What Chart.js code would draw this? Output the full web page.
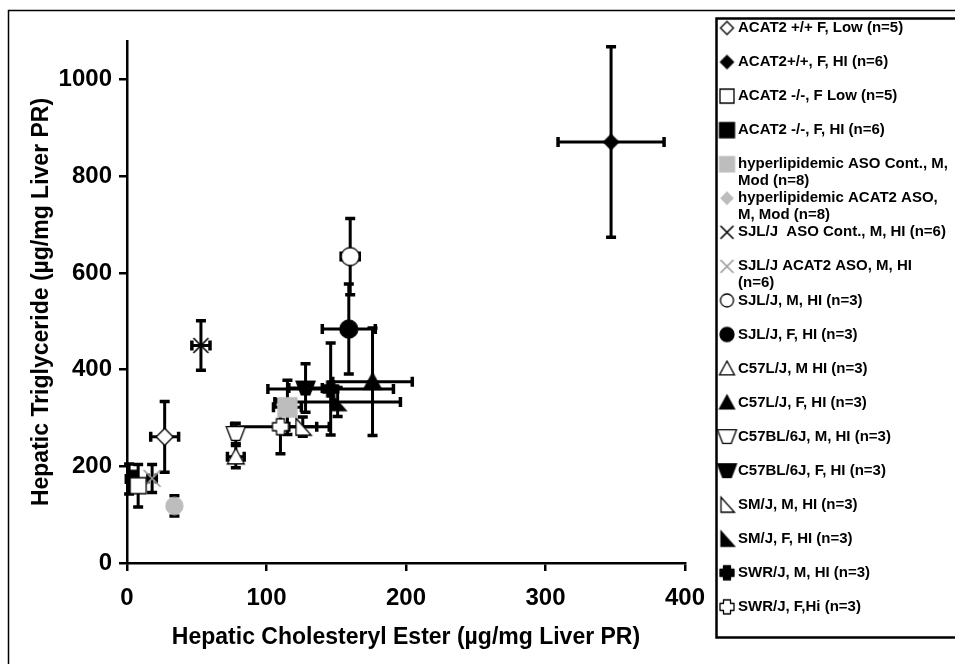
<!DOCTYPE html>
<html>
<head>
<meta charset="utf-8">
<script src="https://cdn.jsdelivr.net/npm/chart.js@4.4.1/dist/chart.umd.min.js"></script>
<style>
  html, body { margin: 0; padding: 0; background: #fff; }
  #wrap { width: 955px; height: 664px; }
</style>
</head>
<body>
<div id="wrap"><canvas id="chart" width="955" height="664"></canvas></div>
<script>
// ---------- data ----------
const seriesNames = [
  'ACAT2 +/+ F, Low (n=5)',
  'ACAT2+/+, F, HI (n=6)',
  'ACAT2 -/-, F Low (n=5)',
  'ACAT2 -/-, F, HI (n=6)',
  'hyperlipidemic ASO Cont., M,\nMod (n=8)',
  'hyperlipidemic ACAT2 ASO,\nM, Mod (n=8)',
  'SJL/J  ASO Cont., M, HI (n=6)',
  'SJL/J ACAT2 ASO, M, HI\n(n=6)',
  'SJL/J, M, HI (n=3)',
  'SJL/J, F, HI (n=3)',
  'C57L/J, M HI (n=3)',
  'C57L/J, F, HI (n=3)',
  'C57BL/6J, M, HI (n=3)',
  'C57BL/6J, F, HI (n=3)',
  'SM/J, M, HI (n=3)',
  'SM/J, F, HI (n=3)',
  'SWR/J, M, HI (n=3)',
  'SWR/J, F,Hi (n=3)',
];
// hepatic cholesteryl ester (x) and triglyceride (y), with SEM
const ceValues = [27, 347, 8, 1.5, 115, 34, 53, 18, 160, 159, 78, 176, 78, 128, 126, 151, 146, 110];
const tgValues = [261, 871, 160, 174, 322, 118, 450, 175, 634, 484, 220, 375, 268, 362, 282, 333, 360, 282];
const ceErr = [10, 38, 4, 2, 10, 3, 6.5, 3, 6.5, 19, 6, 28.5, 2, 12, 10, 45, 45, 35];
const tgErr = [73, 197, 44, 31, 56, 21, 51, 29, 79, 93, 23, 111, 21, 50, 20, 30, 95, 56];

const xTicks = [0, 100, 200, 300, 400];
const yTicks = [0, 200, 400, 600, 800, 1000];

// marker per series: shape, fill, stroke, size in plot, size in legend
const markerStyles = [
  ['diamond', '#fff', '#000', 17, 13],
  ['diamond', '#000', '#000', 15, 13],
  ['square', '#fff', '#000', 16, 14],
  ['square', '#000', '#000', 17, 15],
  ['square', '#bdbdbd', '#bdbdbd', 19, 15],
  ['circle', '#bdbdbd', '#bdbdbd', 17, 0],
  ['x', null, '#000', 15, 13],
  ['x', null, '#9a9a9a', 17, 13],
  ['circle', '#fff', '#000', 18, 13],
  ['circle', '#000', '#000', 18, 14],
  ['triUp', '#fff', '#000', 17, 15],
  ['triUp', '#000', '#000', 18, 15],
  ['trapDown', '#fff', '#000', 19, 19],
  ['trapDown', '#000', '#000', 19, 19],
  ['rtri', '#fff', '#000', 17, 15],
  ['rtri', '#000', '#000', 17, 15],
  ['plus', '#000', '#000', 16, 14],
  ['plus', '#fff', '#000', 16, 14],
];

// ---------- marker drawing ----------
function makeMarker(shape, fill, stroke, s) {
  const c = document.createElement('canvas');
  c.width = c.height = Math.ceil(s + 6);
  const g = c.getContext('2d');
  g.translate(c.width / 2, c.height / 2);
  const h = s / 2;
  g.lineJoin = 'miter';
  g.beginPath();
  switch (shape) {
    case 'diamond':
      g.moveTo(0, -h); g.lineTo(h, 0); g.lineTo(0, h); g.lineTo(-h, 0); break;
    case 'square':
      g.rect(-h, -h, s, s); break;
    case 'circle':
      g.arc(0, 0, h, 0, Math.PI * 2); break;
    case 'triUp':
      g.moveTo(0, -h); g.lineTo(h, h * 0.85); g.lineTo(-h, h * 0.85); break;
    case 'trapDown':
      g.moveTo(-h, -h * 0.72); g.lineTo(h, -h * 0.72); g.lineTo(h * 0.45, h * 0.72); g.lineTo(-h * 0.45, h * 0.72); break;
    case 'rtri':
      g.moveTo(-h * 0.8, -h); g.lineTo(-h * 0.8, h); g.lineTo(h, h); break;
    case 'plus': {
      const a = h * 0.5;
      g.lineJoin = 'round';
      g.moveTo(-a, -h); g.lineTo(a, -h); g.lineTo(a, -a); g.lineTo(h, -a); g.lineTo(h, a);
      g.lineTo(a, a); g.lineTo(a, h); g.lineTo(-a, h); g.lineTo(-a, a); g.lineTo(-h, a);
      g.lineTo(-h, -a); g.lineTo(-a, -a); break;
    }
    case 'x':
      g.moveTo(-h, -h); g.lineTo(h, h); g.moveTo(h, -h); g.lineTo(-h, h);
      g.strokeStyle = stroke; g.lineWidth = 1.6; g.stroke();
      return c;
  }
  g.closePath();
  if (fill) { g.fillStyle = fill; g.fill(); }
  g.strokeStyle = stroke; g.lineWidth = 1.3; g.stroke();
  return c;
}

const plotMarkers = markerStyles.map(m => makeMarker(m[0], m[1], m[2], m[3]));
const legendMarkers = markerStyles.map((m, i) =>
  i === 5 ? makeMarker('diamond', '#bdbdbd', '#bdbdbd', 12) : makeMarker(m[0], m[1], m[2], m[4]));

// ---------- plugins ----------
const frame = {
  id: 'frame',
  beforeDraw(chart) {
    const ctx = chart.ctx;
    ctx.save();
    ctx.fillStyle = '#fff';
    ctx.fillRect(0, 0, chart.width, chart.height);
    ctx.strokeStyle = '#000';
    ctx.lineWidth = 1.5;
    ctx.beginPath();
    ctx.moveTo(8.5, chart.height + 2); ctx.lineTo(8.5, 10.5); ctx.lineTo(chart.width + 2, 10.5);
    ctx.stroke();
    ctx.restore();
  },
};

const errorBars = {
  id: 'errorBars',
  beforeDatasetsDraw(chart) {
    const { ctx, scales: { x, y } } = chart;
    const cap = 5;
    ctx.save();
    ctx.strokeStyle = '#000';
    ctx.lineCap = 'butt';
    ceValues.forEach((cx, i) => {
      const px = x.getPixelForValue(cx), py = y.getPixelForValue(tgValues[i]);
      const x0 = x.getPixelForValue(cx - ceErr[i]), x1 = x.getPixelForValue(cx + ceErr[i]);
      const y0 = y.getPixelForValue(tgValues[i] - tgErr[i]), y1 = y.getPixelForValue(tgValues[i] + tgErr[i]);
      ctx.lineWidth = 3;
      ctx.beginPath();
      ctx.moveTo(x0, py); ctx.lineTo(x1, py);
      ctx.moveTo(px, y0); ctx.lineTo(px, y1);
      ctx.stroke();
      ctx.lineWidth = 3.5;
      ctx.beginPath();
      ctx.moveTo(x0, py - cap); ctx.lineTo(x0, py + cap);
      ctx.moveTo(x1, py - cap); ctx.lineTo(x1, py + cap);
      ctx.moveTo(px - cap, y0); ctx.lineTo(px + cap, y0);
      ctx.moveTo(px - cap, y1); ctx.lineTo(px + cap, y1);
      ctx.stroke();
    });
    ctx.restore();
  },
};

const sideLegend = {
  id: 'sideLegend',
  afterDraw(chart) {
    const ctx = chart.ctx;
    const left = 716.5, top = 18.5, bottom = 637.5;
    const rowTop = 28, rowStep = 34.05, lineGap = 17;
    ctx.save();
    ctx.strokeStyle = '#000';
    ctx.lineWidth = 2.5;
    ctx.strokeRect(left, top, chart.width - left + 10, bottom - top);
    ctx.fillStyle = '#000';
    ctx.font = 'bold 15px "Liberation Sans", Arial, sans-serif';
    ctx.textBaseline = 'middle';
    ctx.textAlign = 'left';
    seriesNames.forEach((name, i) => {
      const yy = rowTop + i * rowStep;
      const m = legendMarkers[i];
      ctx.drawImage(m, 727 - m.width / 2, yy - m.height / 2);
      name.split('\n').forEach((ln, k) => ctx.fillText(ln, 738, yy + k * lineGap));
    });
    ctx.restore();
  },
};

// ---------- chart ----------
const tickFont = { family: '"Liberation Sans", Arial, sans-serif', size: 24, weight: 'bold' };
const titleFont = { family: '"Liberation Sans", Arial, sans-serif', size: 23, weight: 'bold' };

new Chart(document.getElementById('chart'), {
  type: 'scatter',
  data: {
    datasets: seriesNames.map((name, i) => ({
      label: name,
      data: [{ x: ceValues[i], y: tgValues[i] }],
      pointStyle: plotMarkers[i],
      pointRadius: 9,
      pointHoverRadius: 9,
    })),
  },
  options: {
    responsive: false,
    animation: false,
    events: [],
    layout: { padding: { top: 41, right: 270, left: 0, bottom: 0 } },
    plugins: { legend: { display: false }, tooltip: { enabled: false } },
    scales: {
      x: {
        type: 'linear',
        min: 0,
        max: 400,
        afterBuildTicks: (s) => { s.ticks = xTicks.map((v) => ({ value: v })); },
        afterFit: (s) => { s.height = 101; },
        border: { display: true, color: '#000', width: 2.5 },
        grid: { drawOnChartArea: false, drawTicks: true, tickLength: 8, color: '#000', lineWidth: 2.5 },
        ticks: { color: '#000', font: tickFont, padding: 13, maxRotation: 0, callback: (v) => String(v) },
        title: {
          display: true,
          text: 'Hepatic Cholesteryl Ester (µg/mg Liver PR)',
          color: '#000',
          font: titleFont,
          padding: { top: 0, bottom: 13 },
        },
      },
      y: {
        type: 'linear',
        min: 0,
        max: 1080,
        afterBuildTicks: (s) => { s.ticks = yTicks.map((v) => ({ value: v })); },
        afterFit: (s) => { s.width = 127; },
        border: { display: true, color: '#000', width: 2.5 },
        grid: { drawOnChartArea: false, drawTicks: true, tickLength: 8, color: '#000', lineWidth: 2.5 },
        ticks: { color: '#000', font: tickFont, padding: 7, callback: (v) => String(v) },
        title: {
          display: true,
          text: 'Hepatic Triglyceride (µg/mg Liver PR)',
          color: '#000',
          font: titleFont,
          padding: { top: 28, bottom: 0 },
        },
      },
    },
  },
  plugins: [frame, errorBars, sideLegend],
});
</script>
</body>
</html>
